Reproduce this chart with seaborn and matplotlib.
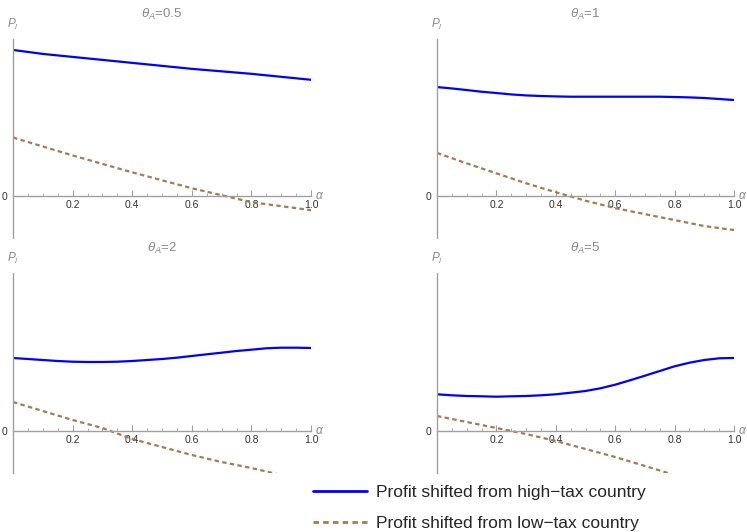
import numpy as np
import pandas as pd
import matplotlib
matplotlib.use("Agg")
import matplotlib.pyplot as plt
import seaborn as sns

sns.set_style("white")
plt.rcParams['font.family'] = ['Liberation Sans', 'DejaVu Sans']
plt.rcParams['mathtext.fontset'] = 'custom'
plt.rcParams['mathtext.it'] = 'Liberation Sans:italic'
plt.rcParams['mathtext.rm'] = 'Liberation Sans'

# alpha grids the curves were read at
alpha_coarse = [0.0, 0.1, 0.2, 0.3, 0.4, 0.5, 0.6, 0.7, 0.8, 0.9, 1.0]
alpha_fine = [0.0, 0.05, 0.1, 0.15, 0.2, 0.25, 0.3, 0.35, 0.4, 0.45, 0.5,
              0.55, 0.6, 0.65, 0.7, 0.75, 0.8, 0.85, 0.9, 0.95, 1.0]

theta_labels = ["0.5", "1", "2", "5"]

# profit shifted from high-tax country (arbitrary units)
high_05 = [1.47, 1.43, 1.40, 1.37, 1.34, 1.31, 1.28, 1.255, 1.23, 1.20, 1.17]
high_1 = [1.097, 1.083, 1.067, 1.05, 1.037, 1.023, 1.013, 1.007, 1.003, 1.0, 1.0,
          1.0, 1.0, 1.0, 1.0, 1.0, 0.997, 0.993, 0.987, 0.977, 0.967]
high_2 = [0.73, 0.72, 0.71, 0.70, 0.693, 0.69, 0.69, 0.693, 0.70, 0.71, 0.72,
          0.733, 0.75, 0.767, 0.783, 0.80, 0.813, 0.827, 0.833, 0.833, 0.83]
high_5 = [0.367, 0.357, 0.35, 0.347, 0.343, 0.347, 0.35, 0.357, 0.367, 0.383, 0.40,
          0.427, 0.463, 0.507, 0.553, 0.60, 0.647, 0.683, 0.71, 0.727, 0.73]

# profit shifted from low-tax country
low_05 = [0.59, 0.50, 0.41, 0.325, 0.24, 0.16, 0.08, 0.01, -0.06, -0.10, -0.14]
low_1 = [0.435, 0.33, 0.23, 0.13, 0.04, -0.045, -0.12, -0.18, -0.24, -0.30, -0.34]
low_2 = [0.29, 0.20, 0.11, 0.03, -0.08, -0.16, -0.24, -0.31, -0.37, -0.44, -0.49]
low_5 = [0.15, 0.09, 0.03, -0.03, -0.10, -0.18, -0.26, -0.35, -0.44, -0.52, -0.60]

high_series = [(alpha_coarse, high_05), (alpha_fine, high_1),
               (alpha_fine, high_2), (alpha_fine, high_5)]
low_series = [low_05, low_1, low_2, low_5]

HIGH_LABEL = "Profit shifted from high\u2212tax country"
LOW_LABEL = "Profit shifted from low\u2212tax country"

BLUE = "#0000ff"
BROWN = "#a87a4c"
AXIS_GRAY = "#a0a0a0"
TEXT_GRAY = "#8a8a8a"

W, H = 747, 532
fig = plt.figure(figsize=(W / 100, H / 100), dpi=100)

# panel boxes in pixels: left, top, right, bottom
boxes = [(13, 39, 311, 238), (437, 39, 734, 238),
         (13, 273, 311, 473), (437, 273, 734, 473)]

for i, (l, t, r, b) in enumerate(boxes):
    ax = fig.add_axes([l / W, 1 - b / H, (r - l) / W, (b - t) / H])
    a_hi, v_hi = high_series[i]
    df = pd.DataFrame({"alpha": list(a_hi) + alpha_coarse,
                       "P": list(v_hi) + low_series[i],
                       "series": [HIGH_LABEL] * len(a_hi) + [LOW_LABEL] * len(alpha_coarse)})
    sns.lineplot(data=df, x="alpha", y="P", hue="series", style="series",
                 palette={HIGH_LABEL: BLUE, LOW_LABEL: BROWN},
                 dashes={HIGH_LABEL: "", LOW_LABEL: (2, 1.5)},
                 linewidth=1.6, legend=False, ax=ax)
    ax.set_xlim(0, 1)
    ax.set_ylim(-0.42, 1.58)

    for s in ["top", "right"]:
        ax.spines[s].set_visible(False)
    ax.spines["bottom"].set_position(("data", 0))
    ax.spines["left"].set_position(("data", 0))
    for s in ["bottom", "left"]:
        ax.spines[s].set_color(AXIS_GRAY)
        ax.spines[s].set_linewidth(1.0)

    ax.set_xticks([0.2, 0.4, 0.6, 0.8, 1.0])
    ax.set_xticklabels(["0.2", "0.4", "0.6", "0.8", "1.0"])
    ax.set_xticks(np.arange(0.05, 1.0, 0.05), minor=True)
    ax.tick_params(axis="x", which="major", direction="in", length=4, width=0.8,
                   color=AXIS_GRAY, labelsize=7.5, labelcolor="#333333", pad=3, bottom=True)
    ax.tick_params(axis="x", which="minor", direction="in", length=2, width=0.6,
                   color=AXIS_GRAY, bottom=True)
    ax.set_yticks([0])
    ax.set_yticklabels(["0"])
    ax.tick_params(axis="y", length=0, labelsize=7.5, labelcolor="#333333", pad=4, left=True)

    ax.set_xlabel("")
    ax.set_ylabel("")
    ax.text(1.015, 0, r"$\alpha$", transform=ax.get_yaxis_transform(),
            ha="left", va="center", fontsize=8.5, color=TEXT_GRAY)
    ax.text(0, 1.035, r"$P_l$", transform=ax.transAxes,
            ha="center", va="bottom", fontsize=8.5, color=TEXT_GRAY)
    ax.set_title(r"$\theta_A$=" + theta_labels[i], fontsize=9.5, color=TEXT_GRAY, pad=15)
    ax.patch.set_alpha(0)

# legend at the bottom
handles = [plt.Line2D([], [], color=BLUE, linewidth=2.0),
           plt.Line2D([], [], color=BROWN, linewidth=2.0, dashes=(2, 1.5))]
fig.legend(handles, [HIGH_LABEL, LOW_LABEL], loc="upper left",
           bbox_to_anchor=(313 / W, 1 - 485 / H), frameon=False, fontsize=12.5,
           handlelength=3.1, handletextpad=0.5, labelspacing=0.92, borderpad=0,
           borderaxespad=0)

fig.savefig("out.png", dpi=100)
